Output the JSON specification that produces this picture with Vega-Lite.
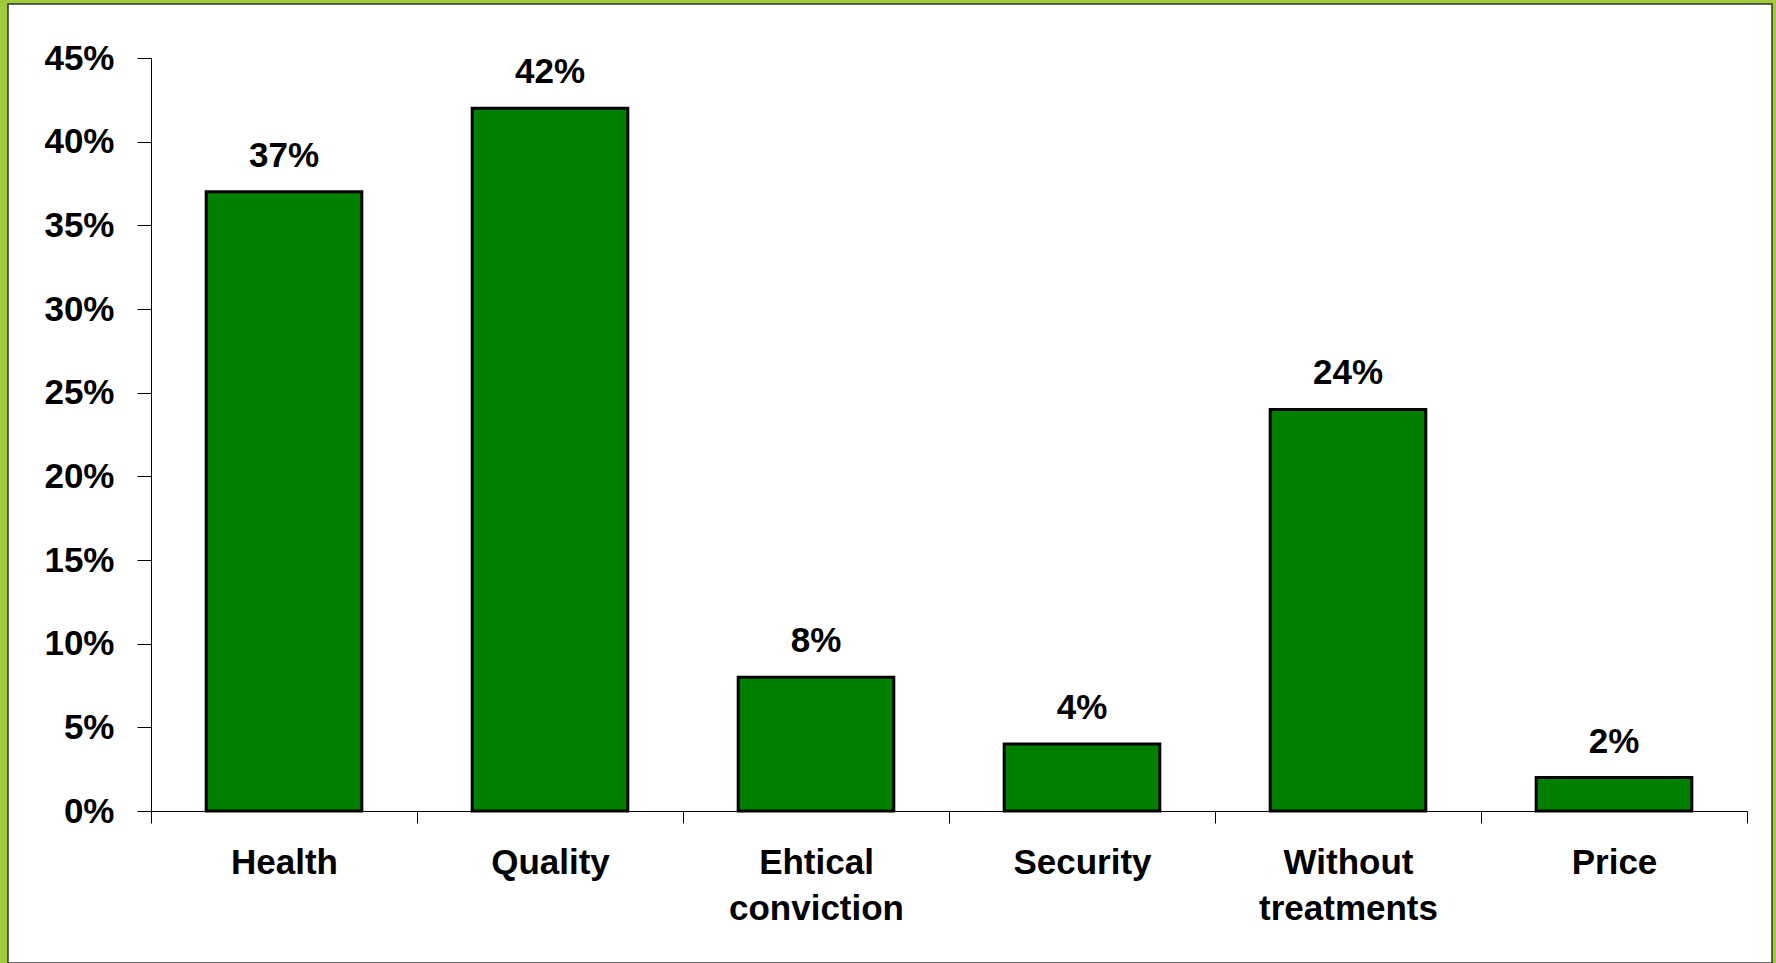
{
  "$schema": "https://vega.github.io/schema/vega-lite/v6.json",
  "autosize": "none",
  "width": 1764,
  "height": 959,
  "padding": {"left": 8, "top": 4, "right": 4, "bottom": 0},
  "background": "#a2c83c",
  "config": {
    "view": {"fill": "white", "stroke": "#333333", "strokeWidth": 1.5},
    "font": "Liberation Sans"
  },
  "data": {
    "values": [
      {"category": "Health", "value": 0.37},
      {"category": "Quality", "value": 0.42},
      {"category": "Ehtical conviction", "value": 0.08},
      {"category": "Security", "value": 0.04},
      {"category": "Without treatments", "value": 0.24},
      {"category": "Price", "value": 0.02}
    ]
  },
  "encoding": {
    "x": {
      "field": "category",
      "type": "nominal",
      "sort": null,
      "scale": {"range": [143, 1739], "paddingInner": 0, "paddingOuter": 0},
      "axis": {
        "title": null,
        "orient": "bottom",
        "offset": -152,
        "labelAngle": 0,
        "labelExpr": "split(datum.label, ' ')",
        "labelFont": "Liberation Sans",
        "labelFontWeight": "bold",
        "labelFontSize": 35,
        "labelColor": "black",
        "labelLineHeight": 46,
        "labelPadding": 22,
        "tickBand": "extent",
        "tickSize": 12,
        "tickColor": "black",
        "tickWidth": 1,
        "domainColor": "black",
        "domainWidth": 1,
        "grid": false
      }
    },
    "y": {
      "field": "value",
      "type": "quantitative",
      "scale": {"domain": [0, 0.45], "range": [807, 54], "nice": false, "zero": true},
      "axis": {
        "title": null,
        "offset": -143,
        "format": ".0%",
        "values": [0, 0.05, 0.1, 0.15, 0.2, 0.25, 0.3, 0.35, 0.4, 0.45],
        "labelFont": "Liberation Sans",
        "labelFontWeight": "bold",
        "labelFontSize": 35,
        "labelColor": "black",
        "labelPadding": 23,
        "tickSize": 14,
        "tickColor": "black",
        "tickWidth": 1,
        "domainColor": "black",
        "domainWidth": 1,
        "grid": false
      }
    }
  },
  "layer": [
    {
      "mark": {"type": "bar", "fill": "#008000", "stroke": "black", "strokeWidth": 3, "width": {"band": 0.585}}
    },
    {
      "mark": {
        "type": "text",
        "baseline": "alphabetic",
        "dy": -25,
        "font": "Liberation Sans",
        "fontWeight": "bold",
        "fontSize": 35,
        "color": "black"
      },
      "encoding": {
        "text": {"field": "value", "type": "quantitative", "format": ".0%"}
      }
    }
  ]
}
